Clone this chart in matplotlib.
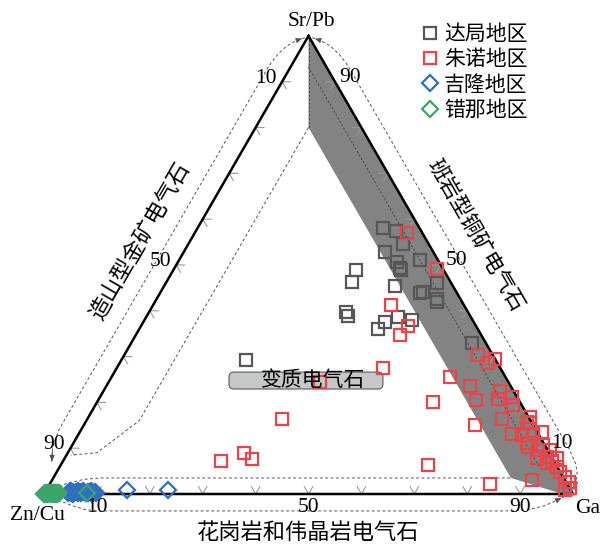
import numpy as np
import matplotlib.pyplot as plt
from matplotlib.patches import Polygon, FancyBboxPatch

CJK = ["Noto Sans CJK SC", "DejaVu Sans"]
SERIF = ["Liberation Serif", "DejaVu Serif"]
plt.rcParams["font.family"] = CJK

SQ3 = np.sqrt(3) / 2

# compositions in percent: Sr/Pb and Ga, Zn/Cu is the remainder
daju_sr = [58.1, 57.4, 54.6, 52.9, 50.7, 49.4, 48.9, 51.1, 46.1, 43.8, 44.1, 42.5,
           41.9, 48.9, 46.2, 45.5, 39.8, 38.9, 36.1, 37.5, 38.7, 38.0, 32.9, 29.3]
daju_ga = [35.0, 37.8, 40.6, 38.0, 41.4, 42.6, 43.0, 45.5, 51.2, 49.2, 49.6, 53.0,
           53.3, 34.5, 35.1, 43.6, 37.1, 38.0, 45.0, 45.7, 47.5, 50.6, 64.4, 23.5]

zhunuo_sr = [56.9, 49.2, 41.2, 36.7, 34.7, 30.3, 29.4, 28.5, 27.4, 25.5, 24.5, 23.6,
             22.5, 21.2, 20.5, 20.1, 20.7, 19.4, 16.3, 15.1, 15.8, 15.4, 13.2, 12.9,
             13.2, 11.1, 10.7, 9.6, 8.1, 7.1, 6.0, 4.9, 3.8, 2.7, 1.4, 0.9, 6.3, 2.1,
             3.1, 13.6, 10.3, 9.6, 6.7, 7.8, 16.3, 7.1, 8.9, 7.6, 16.9, 7.8]
zhunuo_ga = [40.2, 49.6, 44.9, 50.4, 49.9, 66.9, 70.6, 69.7, 50.4, 64.0, 39.9, 68.7,
             75.0, 77.8, 71.4, 63.5, 75.5, 79.0, 78.4, 73.9, 83.4, 84.2, 81.8, 83.9,
             85.9, 85.7, 89.0, 88.6, 91.0, 92.4, 93.9, 95.1, 96.6, 97.8, 98.7, 98.1, 69.5, 83.2,
             90.7, 87.3, 86.4, 90.9, 91.7, 89.2, 36.8, 29.9, 33.4, 35.6, 83.4, 93.0]

jilong_sr = [0.3, 0.6, 0.2, 0.5, 0.1, 0.4, 0.7, 0.3, 0.5, 0.2, 0.6, 0.4, 0.3, 0.5,
             0.2, 0.6, 0.4, 0.1, 0.5, 0.3, 0.9, 0.8]
jilong_ga = [4.4, 4.7, 5.0, 5.2, 5.5, 5.8, 6.0, 6.3, 6.6, 6.9, 7.1, 7.4, 7.7, 8.0,
             8.2, 8.5, 8.8, 9.0, 9.3, 9.7, 15.3, 23.0]

cuona_sr = [0.1, 0.2, 0.1, 0.3, 0.2, 0.1, 0.2, 0.3, 0.1, 0.2, 0.3, 0.1, 0.2, 0.1,
            0.3, 0.2, 0.1, 0.2, 0.3, 0.15]
cuona_ga = [0.0, 0.15, 0.3, 0.45, 0.6, 0.75, 0.9, 1.05, 1.2, 1.35, 1.5, 1.65, 1.8,
            1.95, 2.1, 2.25, 2.4, 2.55, 2.7, 8.0]

groups = ["达局地区", "朱诺地区", "吉隆地区", "错那地区"]
tick_values = [10, 20, 30, 40, 50, 60, 70, 80, 90]
labelled_ticks = [10, 50, 90]


def tern_xy(sr, ga):
    sr = np.asarray(sr, dtype=float)
    ga = np.asarray(ga, dtype=float)
    return ga + sr / 2, sr * SQ3


def zn_path(sr, zn):
    sr = np.asarray(sr, dtype=float)
    return tern_xy(sr, 100 - sr - np.asarray(zn, dtype=float))


fig = plt.figure(figsize=(6.02, 5.46), dpi=100)
ax = fig.add_axes([0, 0, 1, 1])
ax.set_xlim(-8.32, 105.48)
ax.set_ylim(-9.83, 93.39)
ax.axis("off")

# shaded porphyry field along the Sr/Pb - Ga side
gx, gy = tern_xy([100, 80, 3.5, 0, 0], [0, 10, 86.5, 98, 100])
ax.add_patch(Polygon(np.column_stack([gx, gy]), closed=True, fc="#838383",
                     ec="none", zorder=1))

dash = dict(color="#555555", lw=0.7, ls=(0, (3, 2.5)), zorder=2)


def outline(x, y, arrow_start=False, arrow_end=False):
    ax.plot(x, y, **dash)
    ap = dict(arrowstyle="-|>,head_length=0.35,head_width=0.15", color="#555555", lw=0.7)
    if arrow_end:
        ax.annotate("", xy=(x[-1], y[-1]), xytext=(x[-2], y[-2]), arrowprops=ap, zorder=2)
    if arrow_start:
        ax.annotate("", xy=(x[0], y[0]), xytext=(x[1], y[1]), arrowprops=ap, zorder=2)


# orogenic gold field (left side)
outline(*tern_xy([99.6, 99.0, 97.8, 96.0, 93.5, 14.0, 10.0, 6.5],
                 [-0.5, -1.8, -3.0, -3.8, -4.2, -4.2, -3.4, -1.8]),
        arrow_start=True, arrow_end=True)
ax.plot(*tern_xy([80, 16, 9, 8.5], [10, 10, 5.5, 0.8]), **dash)

# porphyry copper field (right side)
outline(*zn_path([99.6, 99.0, 97.8, 96.0, 93.5, 10.0, 6.5, 4.0, 2.0, 0.8],
                 [-0.5, -1.8, -3.0, -3.8, -4.2, -4.2, -3.8, -2.8, -1.3, -0.3]),
        arrow_start=True, arrow_end=True)
ax.plot(*tern_xy([100, 80], [0, 10]), color="#444444", lw=0.7, ls=(0, (2, 2)), zorder=2)
ax.plot(*zn_path([93.2, 6.0], [3.4, 3.4]), color="#444444", lw=0.7, ls=(0, (2, 2)), zorder=2)

# granite / pegmatite field (bottom side)
outline(*tern_xy([-0.5, -1.2, -2.5, -3.4, -3.7, -3.7, -3.5, -2.6, -1.5, -0.6],
                 [1.0, 3.0, 6.5, 9.5, 12.0, 89.0, 93.0, 95.8, 97.5, 98.6]),
        arrow_end=True)
ax.plot(*tern_xy([1.2, 2.3, 3.2, 3.5, 3.5], [1.3, 3.1, 6.0, 9.0, 86.5]), **dash)

# triangle frame
fx, fy = tern_xy([100, 0, 0, 100], [0, 0, 100, 0])
ax.plot(fx, fy, color="black", lw=1.8, zorder=3, solid_joinstyle="miter")

# chevron ticks along the three sides
arm = 1.6
tick_kw = dict(color="#9a9a9a", lw=0.8, zorder=2)
for v in tick_values:
    # left side, Zn/Cu = v
    s = 100 - v
    ax.plot(*tern_xy([s, s, s - arm], [arm, 0, arm]), **tick_kw)
    # right side, Sr/Pb = v
    g = 100 - v
    ax.plot(*tern_xy([v, v, v - arm], [g - arm, g, g]), **tick_kw)
    # bottom side, Ga = v
    ax.plot(*tern_xy([arm, 0, arm], [v - arm, v, v]), **tick_kw)

tick_font = dict(family=SERIF, fontsize=15.5, ha="center", va="center", zorder=5)
for v in labelled_ticks:
    ax.annotate(str(v), xy=tern_xy(100 - v, 0), xytext=(-11.5, 2.5),
                textcoords="offset points", **tick_font)
    ax.annotate(str(v), xy=tern_xy(v, 100 - v), xytext=(11, 3.2),
                textcoords="offset points", **tick_font)
    ax.annotate(str(v), xy=tern_xy(0, v), xytext=(0, -10),
                textcoords="offset points", **tick_font)

# vertex names
ax.annotate("Sr/Pb", xy=tern_xy(100, 0), xytext=(1.8, 10.6), textcoords="offset points",
            **tick_font)
ax.annotate("Zn/Cu", xy=tern_xy(0, 0), xytext=(-4.7, -15.2), textcoords="offset points",
            **tick_font)
ax.annotate("Ga", xy=tern_xy(0, 100), xytext=(10.8, -10.1), textcoords="offset points",
            **tick_font)

# field names
ax.text(*tern_xy(55.4, -9.4), "造山型金矿电气石", fontsize=16, rotation=60,
        ha="center", va="center", rotation_mode="anchor", zorder=5)
ax.text(*tern_xy(56.5, 53.2), "班岩型铜矿电气石", fontsize=15.5, rotation=-60,
        ha="center", va="center", rotation_mode="anchor", zorder=5)
ax.text(*tern_xy(-8.3, 54.1), "花岗岩和伟晶岩电气石", fontsize=16,
        ha="center", va="center", zorder=5)

ax.add_patch(FancyBboxPatch((34.97, 19.85), 29.1, 3.2,
                            boxstyle="round,pad=0,rounding_size=0.9",
                            fc="#c5c7c9", ec="#5a5a5a", lw=0.8, zorder=3))
ax.text(50.85, 21.5, "变质电气石", fontsize=15, ha="center", va="center", zorder=5)

# samples
sq = dict(ls="none", marker="s", ms=8.5, mew=1.6, mfc="none", zorder=4)
dm = dict(ls="none", marker="D", ms=7.8, mew=1.6, mfc="none", zorder=4)
h1, = ax.plot(*tern_xy(daju_sr, daju_ga), mec="#575757", label=groups[0], **sq)
h2, = ax.plot(*tern_xy(zhunuo_sr, zhunuo_ga), mec="#e8454b", label=groups[1], **sq)
h3, = ax.plot(*tern_xy(jilong_sr, jilong_ga), mec="#2f6ec0", label=groups[2], **dm)
h4, = ax.plot(*tern_xy(cuona_sr, cuona_ga), mec="#3ca56a", label=groups[3], **dm)

ax.legend(handles=[h1, h2, h3, h4], loc="upper left",
          bbox_to_anchor=(420 / 602, 1 - 23 / 546), bbox_transform=fig.transFigure,
          frameon=False, prop=dict(family=CJK, size=15), handlelength=1.0,
          handletextpad=0.15, labelspacing=0.16, borderpad=0, borderaxespad=0)

fig.savefig("out.png", dpi=100)
